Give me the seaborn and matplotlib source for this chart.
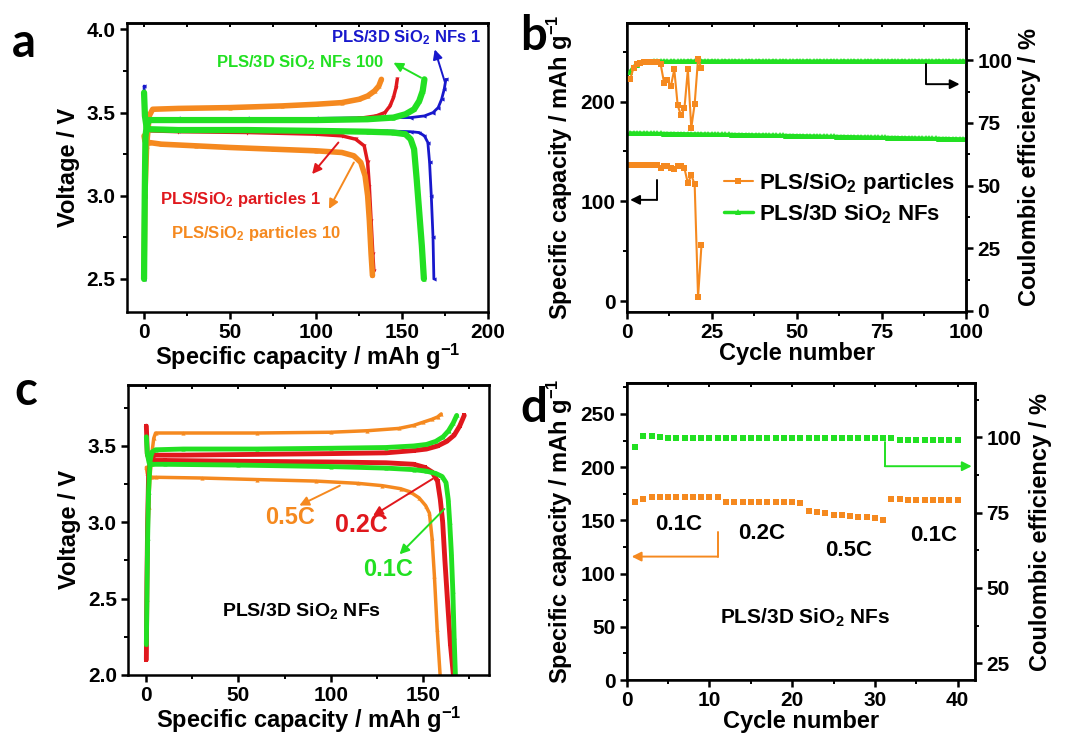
import matplotlib
matplotlib.use("Agg")
import matplotlib.pyplot as plt
from matplotlib.ticker import MultipleLocator, FormatStrFormatter
import seaborn as sns

ORANGE = "#F5891F"
GREEN = "#22E022"
RED = "#E0181D"
BLUE = "#1818CC"

# ---- panel a: 1st / 100th (NFs) and 1st / 10th (particles) charge-discharge ----
a_nf1_chg_cap = [0, 0.4, 0.8, 1.5, 3, 20, 60, 100, 140, 155, 163, 168, 171, 173, 174.5, 175.5]
a_nf1_chg_v = [2.5, 3.0, 3.35, 3.42, 3.46, 3.465, 3.465, 3.465, 3.47, 3.47, 3.48, 3.50, 3.53, 3.58, 3.64, 3.70]
a_nf1_dis_cap = [0, 0.5, 1.5, 3, 20, 60, 100, 140, 155, 160, 163, 165, 166, 167, 168, 168.5]
a_nf1_dis_v = [3.66, 3.5, 3.42, 3.40, 3.39, 3.39, 3.39, 3.39, 3.385, 3.38, 3.36, 3.32, 3.2, 3.0, 2.75, 2.5]

a_nf100_chg_cap = [0, 0.4, 0.8, 1.5, 3, 20, 60, 100, 130, 145, 152, 157, 160, 162, 163]
a_nf100_chg_v = [2.5, 3.0, 3.35, 3.42, 3.455, 3.455, 3.455, 3.455, 3.46, 3.47, 3.49, 3.52, 3.57, 3.63, 3.70]
a_nf100_dis_cap = [0, 0.5, 1.5, 3, 20, 60, 100, 130, 145, 152, 155, 157, 158.5, 160, 161.5, 162.7]
a_nf100_dis_v = [3.62, 3.48, 3.41, 3.40, 3.395, 3.395, 3.39, 3.385, 3.38, 3.37, 3.34, 3.28, 3.1, 2.9, 2.7, 2.5]

a_p1_chg_cap = [0, 0.4, 0.8, 1.5, 3, 20, 60, 100, 125, 135, 140, 143, 145, 146.5, 147.2]
a_p1_chg_v = [2.52, 3.0, 3.35, 3.42, 3.45, 3.455, 3.455, 3.46, 3.465, 3.48, 3.50, 3.54, 3.59, 3.65, 3.70]
a_p1_dis_cap = [0, 0.5, 1.5, 3, 20, 60, 100, 115, 123, 128, 130, 131, 132, 133, 133.6]
a_p1_dis_v = [3.6, 3.46, 3.40, 3.39, 3.385, 3.38, 3.37, 3.36, 3.34, 3.3, 3.2, 3.05, 2.85, 2.65, 2.55]

a_p10_chg_cap = [0, 0.5, 1.5, 3, 5, 20, 50, 80, 100, 115, 125, 130, 134, 136.5, 138]
a_p10_chg_v = [2.52, 3.0, 3.3, 3.48, 3.52, 3.525, 3.53, 3.54, 3.55, 3.56, 3.58, 3.60, 3.63, 3.66, 3.70]
a_p10_dis_cap = [0, 0.5, 1.5, 3, 10, 30, 50, 75, 100, 115, 122, 126, 128.5, 130, 131, 132, 132.8]
a_p10_dis_v = [3.36, 3.33, 3.32, 3.32, 3.31, 3.30, 3.29, 3.28, 3.27, 3.26, 3.24, 3.20, 3.12, 3.0, 2.85, 2.65, 2.52]

# ---- panel b: cycling ----
b_p_cycle = list(range(1, 23))
b_p_cap = [136, 136.5, 136.5, 136.5, 136.5, 136.5, 136, 136, 136, 133, 135.5,
           135.5, 133, 132.5, 135.5, 135, 133, 118, 126.5, 117, 4, 56]
b_p_ce = [92.4, 97.0, 98.5, 99.0, 99.3, 99.4, 99.5, 99.5, 99.5, 98.4, 91.0,
          92.0, 89.7, 96.4, 82.0, 78.0, 81.0, 96.4, 73.0, 82.6, 100.7, 96.8]

b_nf_cycle = list(range(1, 101))
b_nf_cap = [168.6, 168.5, 168.4, 168.4, 168.3, 168.3, 168.2, 168.2, 168.1, 168.1,
            168.0, 168.0, 167.9, 167.9, 167.8, 167.8, 167.7, 167.7, 167.6, 167.6,
            167.5, 167.5, 167.4, 167.4, 167.3, 167.3, 167.2, 167.2, 167.1, 167.1,
            167.0, 166.9, 166.9, 166.8, 166.8, 166.7, 166.6, 166.6, 166.5, 166.5,
            166.4, 166.3, 166.3, 166.2, 166.1, 166.1, 166.0, 165.9, 165.9, 165.8,
            165.7, 165.7, 165.6, 165.5, 165.5, 165.4, 165.3, 165.3, 165.2, 165.1,
            165.1, 165.0, 164.9, 164.9, 164.8, 164.7, 164.7, 164.6, 164.5, 164.5,
            164.4, 164.3, 164.3, 164.2, 164.1, 164.1, 164.0, 163.9, 163.9, 163.8,
            163.7, 163.7, 163.6, 163.5, 163.5, 163.4, 163.3, 163.3, 163.2, 163.1,
            163.1, 163.0, 162.9, 162.9, 162.8, 162.7, 162.7, 162.6, 162.5, 162.5]
b_nf_ce = [95.5, 97.4, 98.3, 98.9, 99.2, 99.4, 99.5, 99.6, 99.6, 99.6,
           99.7, 99.6, 99.7, 99.7, 99.6, 99.7, 99.7, 99.8, 99.7, 99.7,
           99.7, 99.8, 99.7, 99.7, 99.8, 99.7, 99.7, 99.7, 99.8, 99.7,
           99.7, 99.8, 99.7, 99.7, 99.7, 99.8, 99.7, 99.7, 99.8, 99.7,
           99.7, 99.7, 99.8, 99.7, 99.7, 99.8, 99.7, 99.7, 99.7, 99.8,
           99.7, 99.7, 99.8, 99.7, 99.7, 99.7, 99.8, 99.7, 99.7, 99.8,
           99.7, 99.7, 99.7, 99.8, 99.7, 99.7, 99.8, 99.7, 99.7, 99.7,
           99.8, 99.7, 99.7, 99.8, 99.7, 99.7, 99.7, 99.8, 99.7, 99.7,
           99.8, 99.7, 99.7, 99.7, 99.8, 99.7, 99.7, 99.8, 99.7, 99.7,
           99.7, 99.8, 99.7, 99.7, 99.8, 99.7, 99.7, 99.7, 99.8, 99.7]

# ---- panel c: rate charge-discharge, PLS/3D SiO2 NFs ----
c_01_chg_cap = [0, 0.3, 0.7, 1.2, 2, 3, 5, 20, 60, 100, 130, 145, 152, 157, 161, 164, 166.5, 168.4]
c_01_chg_v = [2.2, 2.5, 2.9, 3.2, 3.4, 3.46, 3.475, 3.48, 3.48, 3.485, 3.49, 3.50, 3.51, 3.53, 3.56, 3.60, 3.65, 3.70]
c_01_dis_cap = [0, 0.5, 1.5, 3, 10, 50, 100, 130, 145, 152, 157, 160.5, 162.6, 163.8, 164.6, 165.5, 166.3, 167, 167.7]
c_01_dis_v = [3.56, 3.45, 3.39, 3.38, 3.38, 3.375, 3.365, 3.355, 3.345, 3.335, 3.32, 3.30, 3.26, 3.15, 3.0, 2.8, 2.55, 2.25, 2.0]

c_02_chg_cap = [0, 0.3, 0.7, 1.2, 2, 3, 5, 20, 60, 100, 130, 145, 152, 158, 163, 167, 170, 172.5]
c_02_chg_v = [2.1, 2.6, 3.0, 3.3, 3.4, 3.43, 3.44, 3.44, 3.445, 3.45, 3.455, 3.47, 3.48, 3.50, 3.53, 3.57, 3.63, 3.70]
c_02_dis_cap = [0, 0.5, 1.5, 3, 10, 50, 100, 130, 145, 151, 155, 158, 159.5, 160.8, 162, 163.5, 165, 166.6]
c_02_dis_v = [3.63, 3.45, 3.41, 3.405, 3.405, 3.40, 3.395, 3.39, 3.38, 3.36, 3.33, 3.27, 3.15, 3.0, 2.75, 2.47, 2.2, 2.0]

c_05_chg_cap = [0, 0.5, 1.2, 2, 3, 4, 5, 20, 60, 100, 120, 137, 145, 150, 155, 158, 160]
c_05_chg_v = [2.3, 2.8, 3.1, 3.3, 3.45, 3.55, 3.585, 3.585, 3.585, 3.59, 3.60, 3.615, 3.635, 3.655, 3.675, 3.69, 3.71]
c_05_dis_cap = [0, 0.5, 1.5, 3, 5, 30, 60, 92, 115, 128, 138, 143, 148, 151.5, 153.6, 155, 156.3, 157.8, 159.4]
c_05_dis_v = [3.36, 3.32, 3.30, 3.295, 3.295, 3.29, 3.28, 3.27, 3.255, 3.24, 3.22, 3.20, 3.16, 3.11, 3.06, 2.9, 2.65, 2.3, 2.0]

# ---- panel d: rate capability ----
d_cycle = list(range(1, 41))
d_cap = [167.5, 170, 172, 172, 172, 172, 172, 172, 172, 172, 172,
         167, 167, 167, 167, 167, 167, 167, 167, 167, 166.5,
         159, 158, 156.5, 155.5, 155, 154, 153.5, 153, 152.5, 150,
         170.5, 170, 169.5, 169.5, 169.5, 169.5, 169.5, 169.5, 169]
d_ce = [96.7, 100.5, 100.5, 100.2, 99.8, 99.8, 99.8, 99.8, 99.8, 99.8,
        99.8, 99.8, 99.8, 99.8, 99.8, 99.8, 99.8, 99.8, 99.8, 99.8,
        99.8, 99.8, 99.8, 99.8, 99.8, 99.8, 99.8, 99.8, 99.8, 99.8,
        99.8, 99.8, 99.2, 99.2, 99.2, 99.2, 99.2, 99.2, 99.2, 99.2]

sns.set_theme(style="ticks")
plt.rcParams["font.family"] = ["Liberation Sans", "DejaVu Sans"]
plt.rcParams["font.weight"] = "bold"
plt.rcParams["axes.labelweight"] = "bold"
plt.rcParams["mathtext.default"] = "regular"
plt.rcParams["text.color"] = "black"
plt.rcParams["axes.labelcolor"] = "black"
plt.rcParams["xtick.color"] = "black"
plt.rcParams["ytick.color"] = "black"
plt.rcParams["axes.edgecolor"] = "black"

CAP_LABEL = "Specific capacity / mAh g$^{-1}$"
CE_LABEL = "Coulombic efficiency / %"
TICK_SIZE = 15
LABEL_SIZE = 17


def style_axis(ax, xmaj, ymaj, top=True):
    ax.xaxis.set_major_locator(MultipleLocator(xmaj))
    ax.xaxis.set_minor_locator(MultipleLocator(xmaj / 2))
    ax.yaxis.set_major_locator(MultipleLocator(ymaj))
    ax.yaxis.set_minor_locator(MultipleLocator(ymaj / 2))
    ax.tick_params(which="major", direction="out", length=5, width=1.8, labelsize=TICK_SIZE, pad=3)
    ax.tick_params(which="minor", direction="out", length=3, width=1.4)
    for s in ax.spines.values():
        s.set_linewidth(1.8)
        s.set_color("black")
        s.set_visible(True)
    if top:
        sec = ax.secondary_xaxis("top")
        sec.xaxis.set_major_locator(MultipleLocator(xmaj))
        sec.xaxis.set_minor_locator(MultipleLocator(xmaj / 2))
        sec.tick_params(which="both", direction="in", length=3, width=1.4, labeltop=False)
        sec.spines["top"].set_linewidth(1.8)


def style_twin(ax2, ymaj):
    ax2.yaxis.set_major_locator(MultipleLocator(ymaj))
    ax2.yaxis.set_minor_locator(MultipleLocator(ymaj / 2))
    ax2.tick_params(which="major", direction="out", length=5, width=1.8, labelsize=TICK_SIZE, pad=3)
    ax2.tick_params(which="minor", direction="out", length=3, width=1.4)
    ax2.spines["right"].set_linewidth(1.8)


def curve(ax, x, y, color, marker, lw, ms):
    sns.lineplot(x=x, y=y, ax=ax, sort=False, estimator=None, color=color,
                 lw=lw, marker=marker, markersize=ms, markeredgewidth=0)


def arrow(ax, tail, head, color, lw=1.4):
    ax.annotate("", xy=head, xytext=tail,
                arrowprops=dict(arrowstyle="-|>", color=color, lw=lw, mutation_scale=14,
                                shrinkA=0, shrinkB=0))


def bent_arrow(ax, x0, y_top, y_bot, x_end, color):
    ax.plot([x0, x0], [y_top, y_bot], color=color, lw=1.4)
    arrow(ax, (x0, y_bot), (x_end, y_bot), color)


fig = plt.figure(figsize=(10.75, 7.36), dpi=100)

# ---------------- a ----------------
ax_a = fig.add_axes([0.118, 0.576, 0.336, 0.393])
curve(ax_a, a_nf1_chg_cap, a_nf1_chg_v, BLUE, "<", 2.0, 3)
curve(ax_a, a_nf1_dis_cap, a_nf1_dis_v, BLUE, "<", 2.0, 3)
curve(ax_a, a_p1_chg_cap, a_p1_chg_v, RED, "v", 2.5, 3)
curve(ax_a, a_p1_dis_cap, a_p1_dis_v, RED, "v", 2.5, 3)
curve(ax_a, a_p10_chg_cap, a_p10_chg_v, ORANGE, "^", 4.0, 3)
curve(ax_a, a_p10_dis_cap, a_p10_dis_v, ORANGE, "^", 4.0, 3)
curve(ax_a, a_nf100_chg_cap, a_nf100_chg_v, GREEN, "^", 4.5, 3)
curve(ax_a, a_nf100_dis_cap, a_nf100_dis_v, GREEN, "^", 4.5, 3)
ax_a.set_xlim(-10, 200)
ax_a.set_ylim(2.3, 4.04)
style_axis(ax_a, 50, 0.5)
ax_a.yaxis.set_major_formatter(FormatStrFormatter("%.1f"))
ax_a.set_xlabel(CAP_LABEL, fontsize=LABEL_SIZE, labelpad=0)
ax_a.set_ylabel("Voltage / V", fontsize=LABEL_SIZE, labelpad=5)
ax_a.text(152, 3.95, "PLS/3D SiO$_2$ NFs 1", color=BLUE, fontsize=12, ha="center", va="center")
ax_a.text(91, 3.80, "PLS/3D SiO$_2$ NFs 100", color=GREEN, fontsize=12, ha="center", va="center")
ax_a.text(56, 2.98, "PLS/SiO$_2$ particles 1", color=RED, fontsize=12, ha="center", va="center")
ax_a.text(65, 2.77, "PLS/SiO$_2$ particles 10", color=ORANGE, fontsize=12, ha="center", va="center")
arrow(ax_a, (175, 3.68), (169, 3.88), BLUE)
arrow(ax_a, (161, 3.71), (145, 3.80), GREEN)
arrow(ax_a, (113, 3.32), (97.7, 3.13), RED)
arrow(ax_a, (122, 3.20), (107.5, 2.92), ORANGE)

# ---------------- b ----------------
ax_b = fig.add_axes([0.583, 0.576, 0.316, 0.393])
ax_b2 = ax_b.twinx()
sns.lineplot(x=b_p_cycle, y=b_p_cap, ax=ax_b, color=ORANGE, lw=1.5, marker="s",
             markersize=4.5, markeredgewidth=0, label="PLS/SiO$_2$ particles")
sns.lineplot(x=b_nf_cycle, y=b_nf_cap, ax=ax_b, color=GREEN, lw=2.5, marker="^",
             markersize=5, markeredgewidth=0, label="PLS/3D SiO$_2$ NFs")
sns.lineplot(x=b_nf_cycle, y=b_nf_ce, ax=ax_b2, color=GREEN, lw=2.5, marker="^",
             markersize=5, markeredgewidth=0)
sns.lineplot(x=b_p_cycle, y=b_p_ce, ax=ax_b2, color=ORANGE, lw=1.5, marker="s",
             markersize=4.5, markeredgewidth=0)
ax_b.set_xlim(0, 100)
ax_b.set_ylim(-11, 279)
ax_b2.set_ylim(-0.5, 115)
style_axis(ax_b, 25, 100)
style_twin(ax_b2, 25)
ax_b.set_xlabel("Cycle number", fontsize=LABEL_SIZE, labelpad=0)
ax_b.set_ylabel(CAP_LABEL, fontsize=LABEL_SIZE, labelpad=4)
ax_b2.set_ylabel(CE_LABEL, fontsize=LABEL_SIZE, rotation=90, labelpad=4)
ax_b.legend(loc="upper left", bbox_to_anchor=(0.26, 0.52), frameon=False, fontsize=16,
            handlelength=1.3, handletextpad=0.3, borderaxespad=0, labelspacing=0.3)
bent_arrow(ax_b, 8.8, 121.5, 101.5, 1.0, "black")
bent_arrow(ax_b2, 88.2, 98.4, 90.5, 98.0, "black")

# ---------------- c ----------------
ax_c = fig.add_axes([0.119, 0.083, 0.336, 0.394])
curve(ax_c, c_05_chg_cap, c_05_chg_v, ORANGE, "^", 2.5, 3)
curve(ax_c, c_05_dis_cap, c_05_dis_v, ORANGE, "^", 2.5, 3)
curve(ax_c, c_02_chg_cap, c_02_chg_v, RED, "s", 3.5, 2.5)
curve(ax_c, c_02_dis_cap, c_02_dis_v, RED, "s", 3.5, 2.5)
curve(ax_c, c_01_chg_cap, c_01_chg_v, GREEN, "^", 3.5, 3)
curve(ax_c, c_01_dis_cap, c_01_dis_v, GREEN, "^", 3.5, 3)
ax_c.set_xlim(-10, 186)
ax_c.set_ylim(2.0, 3.9)
style_axis(ax_c, 50, 0.5)
ax_c.yaxis.set_major_formatter(FormatStrFormatter("%.1f"))
ax_c.set_xlabel(CAP_LABEL, fontsize=LABEL_SIZE, labelpad=0)
ax_c.set_ylabel("Voltage / V", fontsize=LABEL_SIZE, labelpad=5)
ax_c.text(78, 3.03, "0.5C", color=ORANGE, fontsize=17, ha="center", va="center")
ax_c.text(116.6, 2.98, "0.2C", color=RED, fontsize=18, ha="center", va="center")
ax_c.text(131, 2.69, "0.1C", color=GREEN, fontsize=17, ha="center", va="center")
ax_c.text(84, 2.42, "PLS/3D SiO$_2$ NFs", color="black", fontsize=14, ha="center", va="center")
arrow(ax_c, (105, 3.24), (83, 3.11), ORANGE)
arrow(ax_c, (155.4, 3.285), (123, 3.043), RED)
arrow(ax_c, (161.7, 3.087), (137.4, 2.79), GREEN)

# ---------------- d ----------------
ax_d = fig.add_axes([0.583, 0.076, 0.324, 0.4035])
ax_d2 = ax_d.twinx()
sns.scatterplot(x=d_cycle, y=d_cap, ax=ax_d, color=ORANGE, marker="s", s=24, linewidth=0)
sns.scatterplot(x=d_cycle, y=d_ce, ax=ax_d2, color=GREEN, marker="s", s=24, linewidth=0)
ax_d.set_xlim(0, 42.1)
ax_d.set_ylim(0, 279)
ax_d2.set_ylim(19.4, 118)
style_axis(ax_d, 10, 50)
style_twin(ax_d2, 25)
ax_d.set_xlabel("Cycle number", fontsize=LABEL_SIZE, labelpad=0)
ax_d.set_ylabel(CAP_LABEL, fontsize=LABEL_SIZE, labelpad=4)
ax_d2.set_ylabel(CE_LABEL, fontsize=LABEL_SIZE, rotation=90, labelpad=6)
ax_d.text(6.25, 145.7, "0.1C", fontsize=16, ha="center", va="center")
ax_d.text(16.3, 137.8, "0.2C", fontsize=16, ha="center", va="center")
ax_d.text(26.8, 122, "0.5C", fontsize=16, ha="center", va="center")
ax_d.text(37.1, 136, "0.1C", fontsize=16, ha="center", va="center")
ax_d.text(21.6, 58, "PLS/3D SiO$_2$ NFs", fontsize=15, ha="center", va="center")
bent_arrow(ax_d, 11.0, 138.8, 116, 0.6, ORANGE)
bent_arrow(ax_d2, 31.2, 98.3, 90.4, 41.7, GREEN)

# panel letters
for lbl, x, y in [("a", 0.011, 0.923), ("b", 0.484, 0.932), ("c", 0.013, 0.45), ("d", 0.484, 0.427)]:
    fig.text(x, y, lbl, fontsize=34, fontweight="bold", family=["Lato", "DejaVu Sans"],
             ha="left", va="baseline")

fig.savefig("out.png", dpi=100)
